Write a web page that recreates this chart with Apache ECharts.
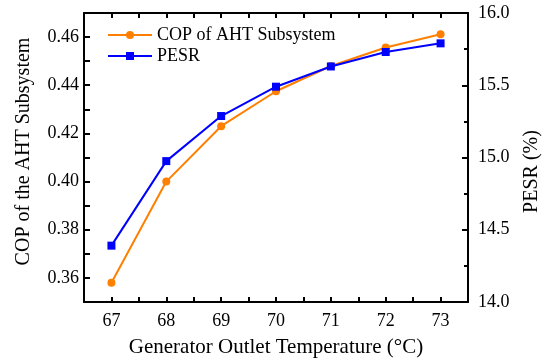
<!DOCTYPE html>
<html>
<head>
<meta charset="utf-8">
<script src="https://cdn.jsdelivr.net/npm/echarts@6/dist/echarts.min.js"></script>
<style>
  html, body { margin: 0; padding: 0; background: #fff; }
  #chart { width: 550px; height: 363px; }
</style>
</head>
<body>
<div id="chart"></div>
<script>
// generator outlet temperature (°C)
var temps = [67, 68, 69, 70, 71, 72, 73];
// COP of the AHT subsystem (left axis)
var copvals = [0.358, 0.400, 0.423, 0.4375, 0.448, 0.4557, 0.4612];
// primary energy saving ratio, % (right axis)
var pesrvals = [14.39, 14.975, 15.287, 15.49, 15.63, 15.73, 15.79];

var fontname = 'Liberation Serif';

function pairs(xs, ys) {
    return xs.map(function (x, i) { return [x, ys[i]]; });
}

function render_chart() {
    var chartobj = echarts.init(document.getElementById('chart'), null, { renderer: 'canvas' });
    var frameline = { show: true, onZero: false, lineStyle: { color: '#000', width: 2 } };
    var option = {
        animation: false,
        backgroundColor: '#fff',
        textStyle: { fontFamily: fontname, color: '#000' },
        grid: { left: 84, right: 78, top: 13, bottom: 59 },
        legend: {
            orient: 'vertical',
            left: 102,
            top: 21,
            itemWidth: 44,
            itemHeight: 10,
            itemGap: 3,
            textStyle: { fontFamily: fontname, fontSize: 18, color: '#000' },
            data: ['COP of AHT Subsystem', 'PESR']
        },
        xAxis: [
            {
                type: 'value',
                position: 'bottom',
                min: 66.5,
                max: 73.5,
                interval: 0.5,
                name: 'Generator Outlet Temperature (°C)',
                nameLocation: 'middle',
                nameGap: 35,
                nameTextStyle: { fontFamily: fontname, fontSize: 21, color: '#000' },
                axisLine: frameline,
                axisTick: { inside: true, length: 5, lineStyle: { color: '#000', width: 2 } },
                axisLabel: {
                    fontFamily: fontname, fontSize: 18, color: '#000', margin: 10,
                    formatter: function (v) { return Number.isInteger(v) ? String(v) : ''; }
                },
                splitLine: { show: false }
            },
            {
                type: 'value',
                position: 'top',
                min: 66.5,
                max: 73.5,
                interval: 0.5,
                axisLine: frameline,
                axisTick: { inside: true, length: 5, lineStyle: { color: '#000', width: 2 } },
                axisLabel: { show: false },
                splitLine: { show: false }
            }
        ],
        yAxis: [
            {
                type: 'value',
                position: 'left',
                min: 0.35,
                max: 0.47,
                interval: 0.01,
                name: 'COP of the AHT Subsystem',
                nameLocation: 'middle',
                nameGap: 50,
                nameTextStyle: { fontFamily: fontname, fontSize: 20, color: '#000', padding: [0, 0, 0, 12] },
                axisLine: frameline,
                axisTick: { inside: true, length: 6, lineStyle: { color: '#000', width: 2 } },
                axisLabel: {
                    fontFamily: fontname, fontSize: 18, color: '#000', margin: 5,
                    formatter: function (v) {
                        var k = Math.round(v * 100);
                        if (k % 2 !== 0 || k === 47) return '';
                        return v.toFixed(2);
                    }
                },
                splitLine: { show: false }
            },
            {
                type: 'value',
                position: 'right',
                min: 14,
                max: 16,
                interval: 0.5,
                name: 'PESR (%)',
                nameLocation: 'middle',
                nameGap: 54,
                nameTextStyle: { fontFamily: fontname, fontSize: 20, color: '#000', padding: [0, 28, 0, 0] },
                axisLine: frameline,
                axisTick: { inside: true, length: 6, lineStyle: { color: '#000', width: 2 } },
                minorTick: { show: true, splitNumber: 2, length: 4, lineStyle: { color: '#000', width: 2 } },
                axisLabel: {
                    fontFamily: fontname, fontSize: 18, color: '#000', margin: 10,
                    formatter: function (v) { return v.toFixed(1); }
                },
                splitLine: { show: false }
            }
        ],
        series: [
            {
                name: 'COP of AHT Subsystem',
                type: 'line',
                xAxisIndex: 0,
                yAxisIndex: 0,
                data: pairs(temps, copvals),
                symbol: 'circle',
                symbolSize: 8,
                color: '#ff8000',
                lineStyle: { color: '#ff8000', width: 2 },
                itemStyle: { color: '#ff8000' },
                z: 2
            },
            {
                name: 'PESR',
                type: 'line',
                xAxisIndex: 0,
                yAxisIndex: 1,
                data: pairs(temps, pesrvals),
                symbol: 'rect',
                symbolSize: 8,
                color: '#0000ff',
                lineStyle: { color: '#0000ff', width: 2 },
                itemStyle: { color: '#0000ff' },
                z: 3
            }
        ]
    };
    chartobj.setOption(option);
}

render_chart();
</script>
</body>
</html>
